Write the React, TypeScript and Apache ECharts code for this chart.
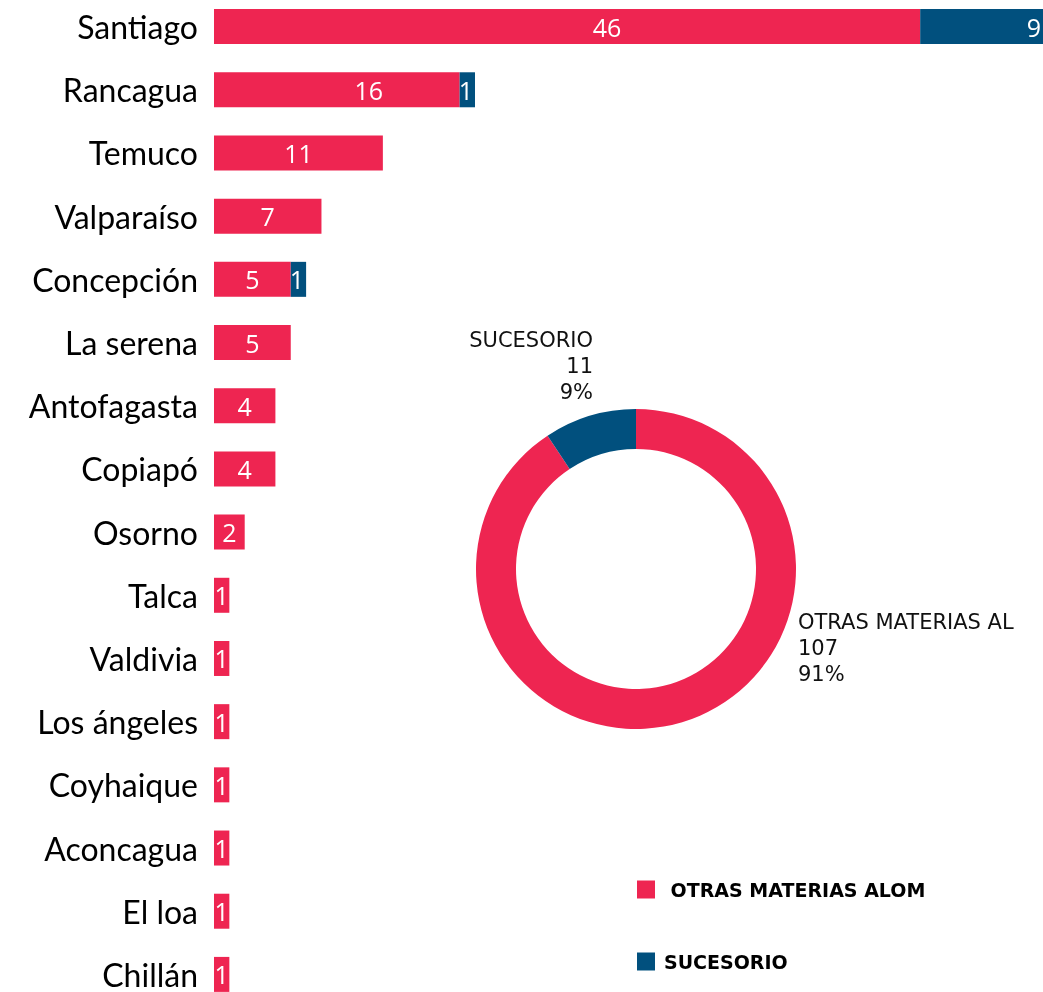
import React, { useEffect, useRef } from "react";
import * as echarts from "echarts";

const categories = [
  "Santiago", "Rancagua", "Temuco", "Valparaíso", "Concepción", "La serena",
  "Antofagasta", "Copiapó", "Osorno", "Talca", "Valdivia", "Los ángeles",
  "Coyhaique", "Aconcagua", "El loa", "Chillán",
];
const otrasValues = [46, 16, 11, 7, 5, 5, 4, 4, 2, 1, 1, 1, 1, 1, 1, 1];
const sucesorioValues = [9, 1, 0, 0, 1, 0, 0, 0, 0, 0, 0, 0, 0, 0, 0, 0];
const seriesNames = [" OTRAS MATERIAS ALOM", "SUCESORIO"];
const pieNames = ["OTRAS MATERIAS AL", "SUCESORIO"];
const pieValues = [107, 11];

const RED = "#EE2551";
const BLUE = "#01507E";
const OFF = 5; // div is shifted up by this many px

// label x-offsets to mimic the source's label placement on the first rows
const labelShift: Record<number, number> = { 0: 40, 1: 32 };

export default function App() {
  const ref = useRef<HTMLDivElement>(null);
  useEffect(() => {
    if (!ref.current) return;
    const chart = echarts.init(ref.current, undefined, { renderer: "svg" });
    const hideZero = (p: any) => (p.value ? String(p.value) : "");
    chart.setOption({
      animation: false,
      grid: { left: 214, right: 0, top: 0, bottom: 0 },
      xAxis: { type: "value", min: 0, max: 54, show: false },
      yAxis: {
        type: "category",
        data: categories,
        inverse: true,
        axisLine: { show: false },
        axisTick: { show: false },
        axisLabel: {
          color: "#000",
          fontFamily: "Lato",
          fontSize: 32,
          margin: 16,
        },
      },
      legend: {
        orient: "vertical",
        left: 632,
        top: 875 + OFF,
        itemWidth: 18,
        itemHeight: 18,
        itemGap: 53,
        icon: "rect",
        data: seriesNames,
        textStyle: {
          color: "#000",
          fontFamily: "DejaVu Sans",
          fontWeight: "bold",
          fontSize: 19,
          padding: [0, 0, 0, 4],
        },
      },
      series: [
        {
          name: seriesNames[0],
          type: "bar",
          stack: "total",
          barWidth: 35,
          data: otrasValues.map((v, i) =>
            labelShift[i] ? { value: v, label: { offset: [labelShift[i], 0] } } : v
          ),
          itemStyle: { color: RED },
          label: {
            show: true,
            position: "inside",
            color: "#fff",
            fontFamily: "Open Sans",
            fontSize: 25,
            formatter: hideZero,
          },
        },
        {
          name: seriesNames[1],
          type: "bar",
          stack: "total",
          barWidth: 35,
          data: sucesorioValues,
          itemStyle: { color: BLUE },
          label: {
            show: true,
            position: "insideRight",
            distance: 2,
            color: "#fff",
            fontFamily: "Open Sans",
            fontSize: 25,
            formatter: hideZero,
          },
        },
        {
          type: "pie",
          center: [636, 569 + OFF],
          radius: [120, 160],
          startAngle: 90,
          clockwise: true,
          percentPrecision: 0,
          data: pieNames.map((n, i) => ({
            name: n,
            value: pieValues[i],
            itemStyle: { color: i === 0 ? RED : BLUE },
          })),
          label: {
            show: true,
            formatter: "{b}\n{c}\n{d}%",
            color: "#111",
            fontFamily: "DejaVu Sans",
            fontSize: 21,
            lineHeight: 26,
          },
          labelLine: { show: false },
          labelLayout: (p: any) =>
            p.dataIndex === 0
              ? { x: 798, y: 609 + OFF, align: "left", verticalAlign: "top" }
              : { x: 593, y: 327 + OFF, align: "right", verticalAlign: "top" },
        },
      ],
    });
    return () => chart.dispose();
  }, []);
  return (
    <div
      ref={ref}
      style={{ position: "fixed", left: 0, top: -OFF, width: 1043, height: 1011 }}
    />
  );
}
